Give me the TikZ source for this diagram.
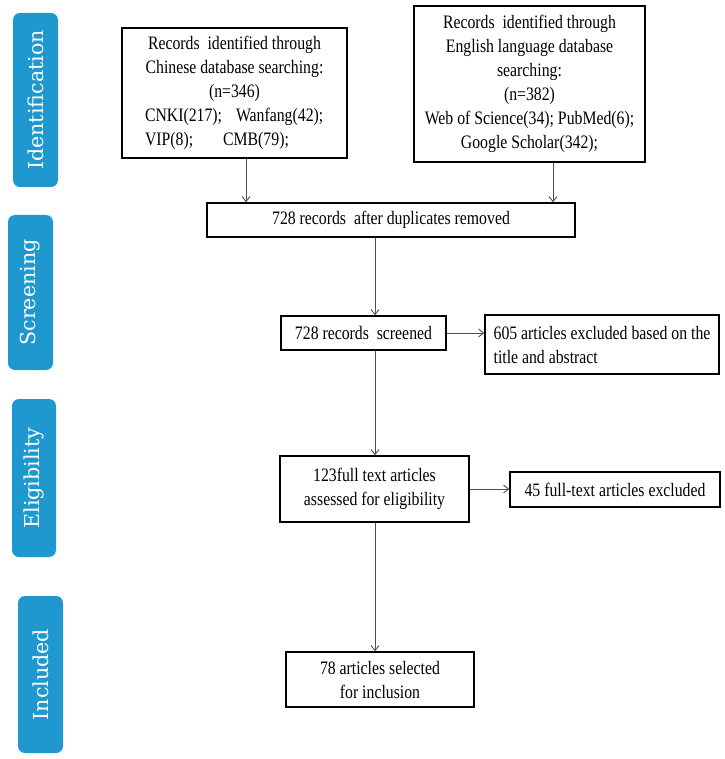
\documentclass[tikz,border=0pt]{standalone}
\usepackage{fontspec}
\setmainfont{Liberation Serif}[FakeStretch=0.83]
\newfontfamily\stagefont{DejaVu Serif}
\usetikzlibrary{arrows.meta}
\definecolor{stageblue}{HTML}{1E98CF}
\definecolor{arrowgray}{HTML}{505050}
\begin{document}
\begin{tikzpicture}[x=1pt,y=-1pt,
  box/.style={draw=black, line width=1.5pt, inner sep=0pt, align=center,
    font=\fontsize{19}{24}\selectfont},
  stage/.style={fill=stageblue, rounded corners=7pt, rotate=90, inner sep=0pt,
    text=white, font=\stagefont\fontsize{20.6}{24}\selectfont},
  arr/.style={draw=arrowgray, line width=0.9pt, -{Straight Barb[length=5pt,width=8pt]}}
]
\useasboundingbox[fill=white] (0,0) rectangle (724,759);

% stage labels
\node[stage, minimum width=174pt, minimum height=45pt] (sid) at (35.5,100) {Identification};
\node[stage, minimum width=155pt, minimum height=45pt] (sscr) at (30.5,292.5) {Screening};
\node[stage, minimum width=158pt, minimum height=44pt] (selg) at (34,478) {Eligibility};
\node[stage, minimum width=157pt, minimum height=45pt] (sinc) at (40.5,674.5) {Included};

% boxes
\node[box, minimum width=225pt, minimum height=130pt] (cn) at (234.5,93)
  {Records\ \ identified through\\ Chinese database searching:\\ (n=346)\\
   \makebox[179pt][l]{CNKI(217);\hspace{14pt}Wanfang(42);}\\
   \makebox[179pt][l]{VIP(8);\hspace{30pt}CMB(79);}};
\node[box, minimum width=231pt, minimum height=156pt] (en) at (529.5,84)
  {Records\ \ identified through\\ English language database\\ searching:\\ (n=382)\\
   Web of Science(34); PubMed(6);\\ Google Scholar(342);};
\node[box, minimum width=368pt, minimum height=34pt] (dup) at (391,220)
  {728 records\ \ after duplicates removed};
\node[box, minimum width=165pt, minimum height=34pt] (scr) at (363.5,333)
  {728 records\ \ screened};
\node[box, align=left, minimum width=234pt, minimum height=59pt] (ex1) at (602,344.5)
  {605 articles excluded based on the\\ title and abstract};
\node[box, minimum width=189pt, minimum height=66pt] (ft) at (374.5,489)
  {123full text articles\\ assessed for eligibility};
\node[box, minimum width=210pt, minimum height=35pt] (ex2) at (615,489.5)
  {45 full-text articles excluded};
\node[box, minimum width=188pt, minimum height=55pt] (inc) at (380,679.5)
  {78 articles selected\\ for inclusion};

% connectors
\coordinate (axl) at (246,0);
\coordinate (axr) at (553,0);
\coordinate (axm) at (375,0);
\draw[arr] (cn.south -| axl) -- (dup.north -| axl);
\draw[arr] (en.south -| axr) -- (dup.north -| axr);
\draw[arr] (dup.south -| axm) -- (scr.north -| axm);
\draw[arr] (scr.east) -- (scr.east -| ex1.west);
\draw[arr] (scr.south -| axm) -- (ft.north -| axm);
\draw[arr] (ft.east) -- (ft.east -| ex2.west);
\draw[arr] (ft.south -| axm) -- (inc.north -| axm);
\end{tikzpicture}
\end{document}
